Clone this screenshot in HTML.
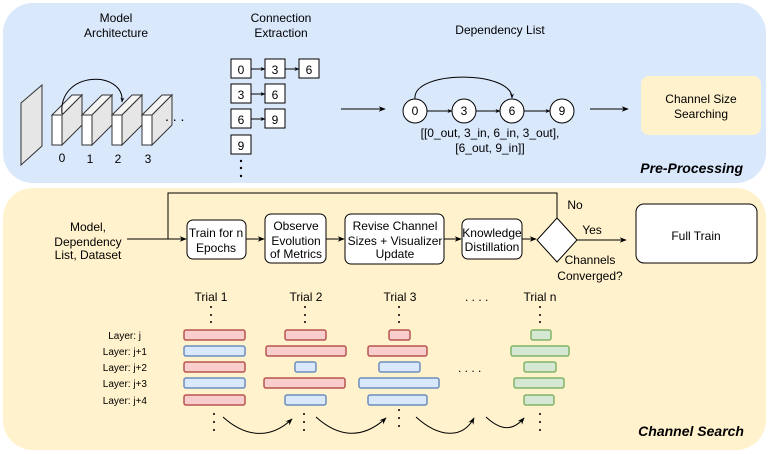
<!DOCTYPE html>
<html><head><meta charset="utf-8"><style>
html,body{margin:0;padding:0;background:#fff;width:770px;height:454px;overflow:hidden}
svg{display:block;font-family:"Liberation Sans",sans-serif}
</style></head><body>
<svg width="770" height="454" viewBox="0 0 770 454" xmlns="http://www.w3.org/2000/svg">
<defs>
<marker id="a" viewBox="0 0 10 10" refX="9" refY="5" markerWidth="7" markerHeight="7" orient="auto"><path d="M0,1 L10,5 L0,9 L3,5z" fill="#000"/></marker>
<marker id="s" viewBox="0 0 10 10" refX="9" refY="5" markerWidth="5" markerHeight="5" orient="auto"><path d="M0,1 L10,5 L0,9 L3,5z" fill="#000"/></marker>
</defs>
<rect x="3" y="3" width="763" height="180" rx="30" fill="#dae8fc"/>
<rect x="3" y="188" width="763" height="262" rx="30" fill="#fff2cc"/>

<g font-size="12" text-anchor="middle" fill="#000">
<text x="116" y="22">Model</text><text x="116" y="37">Architecture</text>
<text x="281" y="22">Connection</text><text x="281" y="37">Extraction</text>
<text x="500" y="34">Dependency List</text>
</g>
<polygon points="21,103 42,85 42,146 21,165" fill="#e6e6e6" stroke="#333" stroke-width="1"/>
<g stroke="#333" stroke-width="1">
<g id="b"><polygon points="52,115 72,95 82,95 62,115" fill="#f4f4f4"/><polygon points="62,115 82,95 82,125 62,145" fill="#e6e6e6"/><rect x="52" y="115" width="10" height="30" fill="#fff"/></g>
<use href="#b" x="30"/><use href="#b" x="60"/><use href="#b" x="90"/>
</g>
<path d="M62,114 C58,70 125,70 122,102" fill="none" stroke="#000" marker-end="url(#s)"/>
<text x="165" y="121" font-size="14">. . .</text>
<g font-size="12" text-anchor="middle"><text x="62" y="162">0</text><text x="90" y="163">1</text><text x="118" y="163">2</text><text x="148" y="163">3</text></g>
<g fill="#fff" stroke="#000" stroke-width="1">
<rect x="231" y="59" width="20" height="19"/><rect x="265" y="59" width="20" height="19"/><rect x="299" y="59" width="20" height="19"/>
<rect x="231" y="84" width="20" height="19"/><rect x="265" y="84" width="20" height="19"/>
<rect x="231" y="109" width="20" height="19"/><rect x="265" y="109" width="20" height="19"/>
<rect x="231" y="135" width="20" height="19"/>
</g>
<g stroke="#000" marker-end="url(#s)"><line x1="251" y1="69" x2="265" y2="69"/><line x1="285" y1="69" x2="299" y2="69"/><line x1="251" y1="94" x2="265" y2="94"/><line x1="251" y1="119" x2="265" y2="119"/></g>
<g font-size="12" text-anchor="middle"><text x="241" y="74">0</text><text x="275" y="74">3</text><text x="309" y="74">6</text><text x="241" y="99">3</text><text x="275" y="99">6</text><text x="241" y="124">6</text><text x="275" y="124">9</text><text x="241" y="150">9</text></g>
<g fill="#000"><circle cx="241" cy="161" r="1.2"/><circle cx="241" cy="168" r="1.2"/><circle cx="241" cy="176" r="1.2"/></g>
<line x1="341" y1="109" x2="385" y2="109" stroke="#000" marker-end="url(#a)"/>
<path d="M415,99 C412,70 512,70 512,98" fill="none" stroke="#000" marker-end="url(#s)"/>
<g stroke="#000" marker-end="url(#s)"><line x1="427" y1="111" x2="452" y2="111"/><line x1="476" y1="111" x2="500" y2="111"/><line x1="524" y1="111" x2="550" y2="111"/></g>
<g fill="#fff" stroke="#000"><circle cx="415" cy="111" r="12"/><circle cx="464" cy="111" r="12"/><circle cx="512" cy="111" r="12"/><circle cx="562" cy="111" r="12"/></g>
<g font-size="12" text-anchor="middle"><text x="415" y="115">0</text><text x="464" y="115">3</text><text x="512" y="115">6</text><text x="562" y="115">9</text>
<text x="490" y="137">[[0_out, 3_in, 6_in, 3_out],</text><text x="490" y="152">[6_out, 9_in]]</text></g>
<line x1="590" y1="109" x2="628" y2="109" stroke="#000" marker-end="url(#a)"/>
<rect x="641" y="76" width="120" height="59" rx="8" fill="#fff2cc"/>
<g font-size="12" text-anchor="middle"><text x="701" y="103">Channel Size</text><text x="701" y="118">Searching</text></g>
<text x="743" y="173" font-size="14" font-weight="bold" font-style="italic" text-anchor="end">Pre-Processing</text>

<g font-size="12" text-anchor="middle"><text x="88" y="231">Model,</text><text x="88" y="246">Dependency</text><text x="88" y="259">List, Dataset</text></g>
<polyline points="557,218 557,193 168,193 168,239" fill="none" stroke="#000"/>
<line x1="127" y1="239" x2="186" y2="239" stroke="#000" marker-end="url(#a)"/>
<g fill="#fff" stroke="#000">
<rect x="187" y="220" width="59" height="39" rx="6"/>
<rect x="265" y="214" width="61" height="49" rx="6"/>
<rect x="345" y="214" width="99" height="50" rx="6"/>
<rect x="462" y="219" width="60" height="40" rx="6"/>
<polygon points="557,218 577,240 557,262 537,240"/>
<rect x="636" y="204" width="121" height="59" rx="8"/>
</g>
<g stroke="#000" marker-end="url(#a)"><line x1="246" y1="239" x2="264" y2="239"/><line x1="326" y1="239" x2="344" y2="239"/><line x1="444" y1="239" x2="461" y2="239"/><line x1="522" y1="239" x2="536" y2="239"/><line x1="577" y1="240" x2="626" y2="240"/></g>
<g font-size="12" text-anchor="middle">
<text x="216" y="237">Train for n</text><text x="216" y="252">Epochs</text>
<text x="296" y="230">Observe</text><text x="296" y="245">Evolution</text><text x="296" y="258">of Metrics</text>
<text x="395" y="230">Revise Channel</text><text x="395" y="245">Sizes + Visualizer</text><text x="395" y="258">Update</text>
<text x="492" y="237">Knowledge</text><text x="492" y="251">Distillation</text>
<text x="575" y="209">No</text><text x="592" y="234">Yes</text>
<text x="590" y="264">Channels</text><text x="590" y="280">Converged?</text>
<text x="696" y="240">Full Train</text>
<text x="211" y="301">Trial 1</text><text x="306" y="301">Trial 2</text><text x="400" y="301">Trial 3</text><text x="540" y="301">Trial n</text>
</g>
<text x="465" y="301" font-size="12">. . . .</text>
<text x="458" y="372" font-size="12">. . . .</text>
<g font-size="10" text-anchor="end"><text x="141" y="339">Layer: j</text><text x="147" y="355">Layer: j+1</text><text x="147" y="371">Layer: j+2</text><text x="147" y="387">Layer: j+3</text><text x="147" y="404">Layer: j+4</text></g>
<g stroke-width="1.5">
<g fill="#f8cecc" stroke="#b85450">
<rect x="184" y="330" width="61" height="10" rx="2"/><rect x="184" y="362" width="61" height="10" rx="2"/><rect x="184" y="395" width="61" height="10" rx="2"/>
<rect x="285" y="330" width="41" height="10" rx="2"/><rect x="266" y="346" width="80" height="10" rx="2"/><rect x="264" y="378" width="81" height="10" rx="2"/>
<rect x="389" y="330" width="21" height="10" rx="2"/><rect x="368" y="346" width="59" height="10" rx="2"/>
</g>
<g fill="#dae8fc" stroke="#6c8ebf">
<rect x="184" y="346" width="61" height="10" rx="2"/><rect x="184" y="378" width="61" height="10" rx="2"/>
<rect x="295" y="362" width="21" height="10" rx="2"/><rect x="285" y="395" width="41" height="10" rx="2"/>
<rect x="379" y="362" width="41" height="10" rx="2"/><rect x="359" y="378" width="80" height="10" rx="2"/><rect x="368" y="395" width="59" height="10" rx="2"/>
</g>
<g fill="#d5e8d4" stroke="#82b366">
<rect x="531" y="330" width="20" height="10" rx="2"/><rect x="511" y="346" width="58" height="10" rx="2"/><rect x="524" y="362" width="32" height="10" rx="2"/><rect x="514" y="378" width="50" height="10" rx="2"/><rect x="524" y="395" width="30" height="10" rx="2"/>
</g>
</g>
<g fill="#000">
<circle cx="211" cy="307" r="1"/><circle cx="211" cy="315" r="1"/><circle cx="211" cy="322" r="1"/>
<circle cx="305" cy="307" r="1"/><circle cx="305" cy="315" r="1"/><circle cx="305" cy="322" r="1"/>
<circle cx="399" cy="307" r="1"/><circle cx="399" cy="315" r="1"/><circle cx="399" cy="322" r="1"/>
<circle cx="540" cy="307" r="1"/><circle cx="540" cy="315" r="1"/><circle cx="540" cy="322" r="1"/>
<circle cx="214" cy="414" r="1"/><circle cx="214" cy="422" r="1"/><circle cx="214" cy="430" r="1"/>
<circle cx="304" cy="414" r="1"/><circle cx="304" cy="422" r="1"/><circle cx="304" cy="430" r="1"/>
<circle cx="399" cy="410" r="1"/><circle cx="399" cy="418" r="1"/><circle cx="399" cy="426" r="1"/>
<circle cx="540" cy="414" r="1"/><circle cx="540" cy="422" r="1"/><circle cx="540" cy="430" r="1"/>
</g>
<g fill="none" stroke="#000" marker-end="url(#a)">
<path d="M223,417 C245,437 270,440 292,419"/>
<path d="M316,417 C338,437 362,440 386,418"/>
<path d="M416,417 C438,437 462,440 474,418"/>
<path d="M486,417 C500,430 512,432 524,418"/>
</g>
<text x="744" y="436" font-size="14" font-weight="bold" font-style="italic" text-anchor="end">Channel Search</text>
</svg>
</body></html>
